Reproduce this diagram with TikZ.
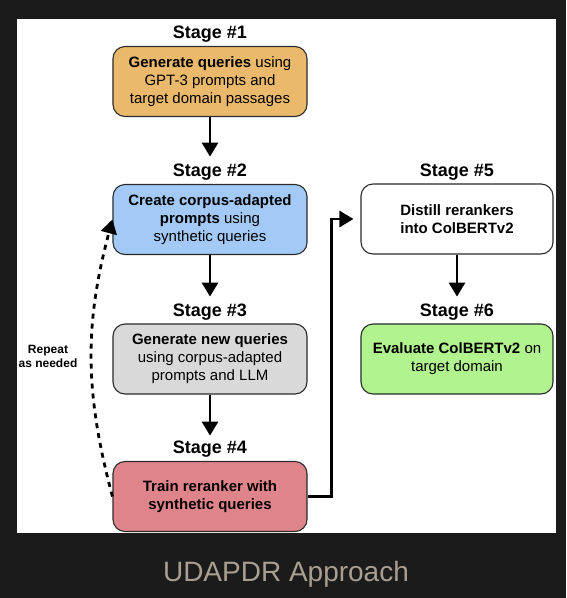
\documentclass[tikz,border=0pt]{standalone}
\usepackage{fontspec}
\setmainfont{Liberation Sans}
\usetikzlibrary{arrows.meta}

\tikzset{
  stagebox/.style={draw=boxline,line width=1.1pt,rounded corners=12pt,
    minimum width=194pt,minimum height=70pt,align=center,inner sep=0pt,
    font=\fontsize{15}{18}\selectfont},
  stagetitle/.style={inner sep=0pt,font=\fontsize{18}{20}\selectfont\bfseries},
  flow/.style={line width=2.8pt,-{Triangle[width=16pt,length=14pt]}},
}

\begin{document}
\begin{tikzpicture}[x=1pt,y=-1pt]
  \definecolor{backdark}{HTML}{1B1B1B}
  \definecolor{boxline}{HTML}{2B2B2B}
  \definecolor{genfill}{HTML}{EBB96C}
  \definecolor{promptfill}{HTML}{A3C9F6}
  \definecolor{newfill}{HTML}{D9D9D9}
  \definecolor{trainfill}{HTML}{E0848B}
  \definecolor{evalfill}{HTML}{B1F38E}
  \definecolor{captext}{HTML}{A89F90}
  \fill [backdark] (0,0) rectangle (566,598);
  \useasboundingbox (0,0) rectangle (566,598);
  \fill [white] (17,19) rectangle (556,533);
  % left column
  \node [stagetitle] (t1) at (210,34) {Stage \#1};
  \node [stagebox,fill=genfill] (s1) at (210,81.5)
    {\textbf{Generate queries} using\\GPT-3 prompts and\\target domain passages};
  \node [stagetitle] (t2) at (210,172) {Stage \#2};
  \node [stagebox,fill=promptfill] (s2) at (210,219.5)
    {\textbf{Create corpus-adapted}\\\textbf{prompts} using\\synthetic queries};
  \node [stagetitle] (t3) at (210,312) {Stage \#3};
  \node [stagebox,fill=newfill] (s3) at (210,359)
    {\textbf{Generate new queries}\\using corpus-adapted\\prompts and LLM};
  \node [stagetitle] (t4) at (210,449) {Stage \#4};
  \node [stagebox,fill=trainfill,font=\fontsize{15}{18}\selectfont\bfseries] (s4) at (210,496.5)
    {Train reranker with\\synthetic queries};
  % right column
  \node [stagetitle] (t5) at (457,172) {Stage \#5};
  \node [stagebox,fill=white,minimum width=192pt,font=\fontsize{15}{18}\selectfont\bfseries] (s5) at (457,219)
    {Distill rerankers\\into ColBERTv2};
  \node [stagetitle] (t6) at (457,312) {Stage \#6};
  \node [stagebox,fill=evalfill,minimum width=192pt] (s6) at (457,359)
    {\textbf{Evaluate ColBERTv2} on\\target domain};
  \node [font=\fontsize{12}{14}\selectfont\bfseries,align=center] (rep) at (48,356)
    {Repeat\\as needed};
  \node [text=captext,font=\fontsize{28}{32}\selectfont] (cap) at (286,574) {UDAPDR Approach};
  % connectors
  \draw [flow,shorten >=7pt] (s1.south) -- (t2.north);
  \draw [flow,shorten >=7pt] (s2.south) -- (t3.north);
  \draw [flow,shorten >=5pt] (s3.south) -- (t4.north);
  \draw [flow,shorten >=7pt] (s5.south) -- (t6.north);
  \draw [flow,shorten >=7pt] (s4.east) -- ++(24,0) |- (s5.west);
  \draw [flow,dash pattern=on 5pt off 5pt] (s4.west) to[bend left=15] (s2.west);
\end{tikzpicture}
\end{document}
